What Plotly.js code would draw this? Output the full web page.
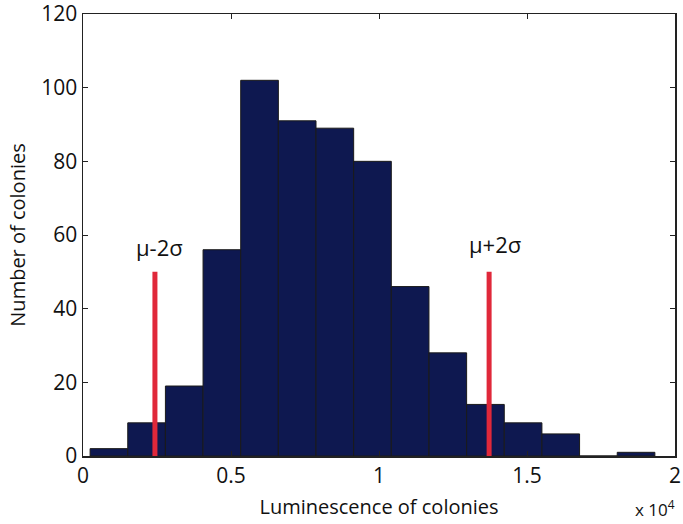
<!DOCTYPE html>
<html><head><meta charset="utf-8">
<script src="https://cdn.plot.ly/plotly-3.0.1.min.js"></script>
<style>body{margin:0;background:#fff}#c{width:683px;height:524px}</style>
</head><body><div id="c"></div>
<script>
const binStart = 0.024;   // x10^4
const binWidth = 0.1272;
const counts = [2, 9, 19, 56, 102, 91, 89, 80, 46, 28, 14, 9, 6, 0, 1];
const centers = counts.map((_, i) => binStart + binWidth * (i + 0.5));
const markerX = [0.243, 1.372];
const markerH = [50, 50];
const markerLabels = ['μ-2σ', 'μ+2σ'];
const xTicks = [0, 0.5, 1, 1.5, 2];
const xTickText = ['0', '0.5', '1', '1.5', '2'];
const yTicks = [0, 20, 40, 60, 80, 100, 120];

const traces = [{
  type: 'bar', x: centers, y: counts, width: binWidth,
  marker: {color: '#0e1850', line: {color: '#1a1a1a', width: 1}},
  hoverinfo: 'skip'
}];
markerX.forEach((mx, i) => {
  traces.push({type: 'scatter', mode: 'lines', x: [mx, mx], y: [0, markerH[i]],
    line: {color: '#e0283a', width: 5}, hoverinfo: 'skip'});
});

const fontFam = '"Open Sans", "DejaVu Sans", sans-serif';
const layout = {
  width: 683, height: 524,
  margin: {l: 83, r: 8, t: 14, b: 68},
  paper_bgcolor: '#ffffff', plot_bgcolor: '#ffffff',
  showlegend: false,
  bargap: 0,
  font: {family: fontFam, color: '#111'},
  xaxis: {
    range: [0, 2], tickvals: xTicks, ticktext: xTickText,
    ticks: 'inside', ticklen: 5, tickcolor: '#222', mirror: 'ticks',
    showline: true, linecolor: '#222', linewidth: 1.5, showgrid: false, zeroline: false,
    ticklabeloverflow: 'allow',
    tickfont: {size: 21, family: fontFam},
    title: {text: 'Luminescence of colonies', font: {size: 20, family: fontFam}, standoff: 12}
  },
  yaxis: {
    range: [0, 120], tickvals: yTicks,
    ticks: 'inside', ticklen: 5, tickcolor: '#222', mirror: 'ticks',
    showline: true, linecolor: '#222', linewidth: 1.5, showgrid: false, zeroline: false,
    ticklabeloverflow: 'allow',
    tickfont: {size: 21, family: fontFam},
    title: {text: 'Number of colonies', font: {size: 20, family: fontFam}, standoff: 10}
  },
  annotations: [
    {x: markerX[0] + 0.015, y: markerH[0] + 2, xref: 'x', yref: 'y', text: markerLabels[0],
      showarrow: false, yanchor: 'bottom', font: {size: 22, family: fontFam, color: '#111'}},
    {x: markerX[1] + 0.02, y: markerH[1] + 3, xref: 'x', yref: 'y', text: markerLabels[1],
      showarrow: false, yanchor: 'bottom', font: {size: 22, family: fontFam, color: '#111'}},
    {x: 1, y: 0, xref: 'paper', yref: 'paper', xanchor: 'right', yanchor: 'top', yshift: -38, xshift: 2,
      text: 'x 10<sup>4</sup>', showarrow: false, font: {size: 17, family: fontFam, color: '#111'}}
  ]
};
Plotly.newPlot('c', traces, layout, {displayModeBar: false, staticPlot: true});
</script></body></html>
